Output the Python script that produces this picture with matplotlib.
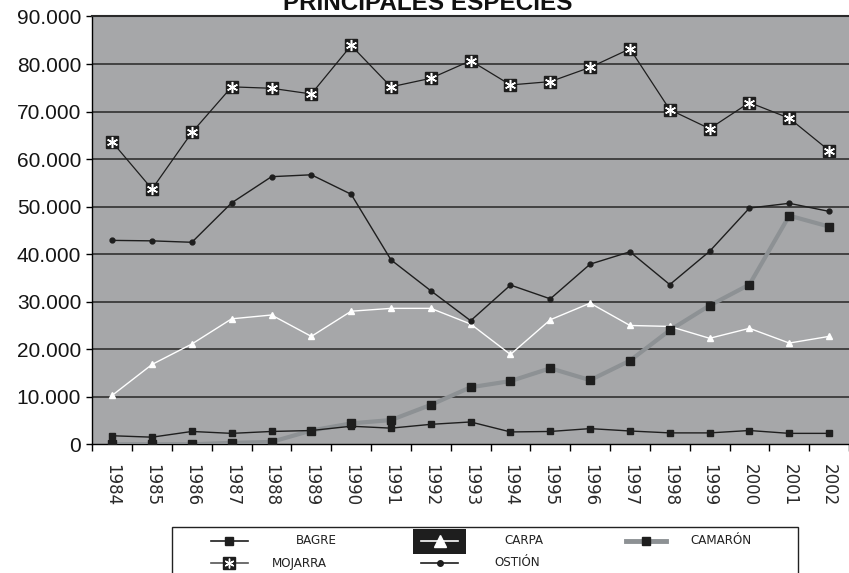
import matplotlib
matplotlib.use('Agg')
import matplotlib.pyplot as plt
from matplotlib.lines import Line2D
from matplotlib.patches import Rectangle
from matplotlib.ticker import FuncFormatter, MultipleLocator
import numpy as np

# Data (tonnes)
years = ['1984', '1985', '1986', '1987', '1988', '1989', '1990', '1991', '1992', '1993',
         '1994', '1995', '1996', '1997', '1998', '1999', '2000', '2001', '2002']
bagre = [1800, 1500, 2700, 2300, 2700, 2900, 3800, 3400, 4200, 4700,
         2600, 2700, 3300, 2800, 2400, 2400, 2900, 2300, 2300]
carpa = [10300, 16800, 21100, 26400, 27200, 22700, 28000, 28600, 28600, 25300,
         18900, 26200, 29700, 25000, 24800, 22300, 24400, 21300, 22700]
camaron = [0, 0, 0, 300, 500, 2900, 4400, 5100, 8300, 12000,
           13300, 16000, 13500, 17600, 24000, 29200, 33600, 48100, 45800]
mojarra = [63600, 53700, 65600, 75200, 74900, 73700, 83900, 75200, 77000, 80700,
           75600, 76300, 79300, 83200, 70400, 66400, 71900, 68600, 61800]
ostion = [42900, 42800, 42500, 50800, 56300, 56700, 52600, 38800, 32300, 26000,
          33500, 30600, 37900, 40500, 33600, 40600, 49700, 50700, 49000]

W, H = 849, 573
fig = plt.figure(figsize=(W / 100, H / 100), dpi=100)

def fx(px):
    return px / W

def fy(py):
    return 1 - py / H

ax = fig.add_axes([fx(92.3), fy(444.3), fx(849) - fx(92.3), fy(16.5) - fy(444.3)])
ax.set_facecolor('#a6a7a9')

x = np.arange(len(years))
ax.set_xlim(-0.5, 18.22)
ax.set_ylim(0, 90000)

for v in range(10000, 90001, 10000):
    ax.axhline(v, color='#3a3a3a', linewidth=1.3, zorder=1)

ax.plot(x, camaron, color='#8d9194', linewidth=3, zorder=3)
ax.plot(x, camaron, linestyle='None', marker='s', markersize=5.5,
        color='#1e1e1e', zorder=4)
ax.plot(x, bagre, color='#1e1e1e', linewidth=1, marker='s', markersize=5,
        zorder=3.5)
ax.plot(x, carpa, color='white', linewidth=1, marker='^', markersize=5,
        zorder=3)
ax.plot(x, ostion, color='#1e1e1e', linewidth=1, marker='o', markersize=3.5,
        zorder=3)
ax.plot(x, mojarra, color='#1e1e1e', linewidth=0.9, marker='s', markersize=8,
        zorder=3)
ax.plot(x, mojarra, linestyle='None', marker=(6, 2, 0), markersize=8,
        markeredgecolor='white', markeredgewidth=1.1, zorder=4)

ax.yaxis.set_major_locator(MultipleLocator(10000))
ax.yaxis.set_major_formatter(FuncFormatter(
    lambda v, p: '0' if v == 0 else f'{int(v):,}'.replace(',', '.')))
ax.tick_params(axis='y', direction='out', length=4, width=1, pad=4,
               labelsize=15, labelcolor='#151515')
for lab in ax.get_yticklabels():
    lab.set_family('Liberation Sans')

ax.set_xticks(x)
ax.set_xticklabels(years, rotation=270, fontsize=12, color='#2a2a2a')
ax.set_xticks(np.arange(-0.5, 18.6, 1), minor=True)
ax.tick_params(axis='x', which='major', length=0, pad=14)
ax.tick_params(axis='x', which='minor', direction='out', length=5, width=1)

for s in ['top', 'right']:
    ax.spines[s].set_visible(False)
ax.spines['left'].set_linewidth(1)
ax.spines['bottom'].set_linewidth(1)
ax.axhline(90000, color='#2a2a2a', linewidth=1.5, clip_on=False, zorder=5)

fig.text(fx(427.5), fy(9.5), 'PRINCIPALES ESPECIES', ha='center', va='baseline',
         fontsize=17.5, fontweight='bold', family='Liberation Sans', color='#111111')

# legend drawn by hand (two rows, three columns as in the original)
fig.add_artist(Rectangle((fx(172), fy(600)), fx(798) - fx(172), fy(527) - fy(600),
                         transform=fig.transFigure, facecolor='white',
                         edgecolor='#222222', linewidth=1))
fig.add_artist(Rectangle((fx(413), fy(554)), fx(466) - fx(413), fy(529) - fy(554),
                         transform=fig.transFigure, facecolor='#1e1e1e',
                         edgecolor='none'))

leg_font = dict(fontsize=9.5, family=['Liberation Sans Narrow', 'DejaVu Sans'],
                stretch='condensed', color='#222222', va='center', ha='left')
r1, r2 = 541, 563
items = [
    (211, 248, r1, 296, 'BAGRE', dict(color='#1e1e1e', lw=1.2, marker='s', ms=6)),
    (421, 458, r1, 504, 'CARPA', dict(color='white', lw=1.2, marker='^', ms=8)),
    (626, 666, r1, 690, 'CAMARÓN', dict(color='#8d9194', lw=3.5)),
    (211, 248, r2, 272, 'MOJARRA', dict(color='#555555', lw=1.2, marker='s', ms=8,
                                       mfc='#1e1e1e', mec='#1e1e1e')),
    (421, 458, r2, 494, 'OSTIÓN', dict(color='#1e1e1e', lw=1.2, marker='o', ms=4)),
]
for x0, x1, yy, tx, label, st in items:
    fig.add_artist(Line2D([fx(x0), fx((x0 + x1) / 2), fx(x1)], [fy(yy)] * 3,
                          transform=fig.transFigure, markevery=[1], **st))
    fig.text(fx(tx), fy(yy), label, **leg_font)
fig.add_artist(Line2D([fx(646)], [fy(r1)], transform=fig.transFigure,
                      marker='s', ms=6, color='#1e1e1e', linestyle='None'))
fig.add_artist(Line2D([fx(229.5)], [fy(r2)], transform=fig.transFigure,
                      marker=(6, 2, 0), ms=7, mec='white', mew=1, linestyle='None'))

fig.savefig('out.png', dpi=100)
